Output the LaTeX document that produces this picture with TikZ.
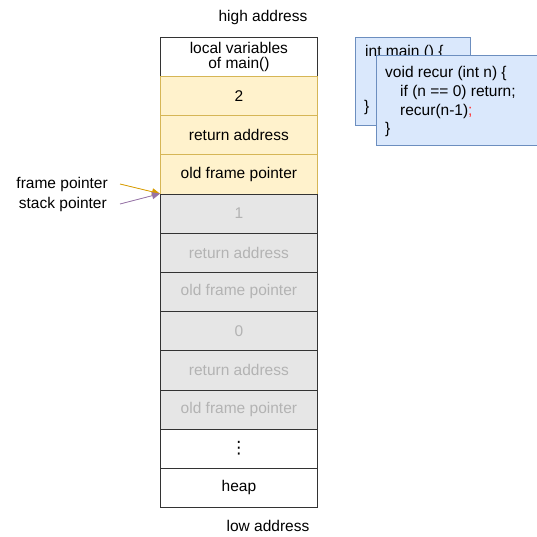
\documentclass[tikz,border=0pt]{standalone}
\usepackage{fontspec}
\setmainfont{Liberation Sans}
\newfontfamily\dotsfont{DejaVu Sans}
\usetikzlibrary{arrows.meta}
\definecolor{yfill}{HTML}{FFF2CC}
\definecolor{yline}{HTML}{D6B656}
\definecolor{gfill}{HTML}{E6E6E6}
\definecolor{gtext}{HTML}{B3B3B3}
\definecolor{cline}{HTML}{333333}
\definecolor{bfill}{HTML}{DAE8FC}
\definecolor{bline}{HTML}{6C8EBF}
\definecolor{fparrow}{HTML}{D79B00}
\definecolor{sparrow}{HTML}{9673A6}
\definecolor{semired}{HTML}{FF3333}
\begin{document}
\begin{tikzpicture}[x=1pt,y=-1pt,
  font=\fontsize{15.5}{17}\selectfont,
  cell/.style={draw=cline,line width=0.8pt,minimum width=157pt,minimum height=39.17pt,inner sep=0pt,anchor=north west,align=center},
  wcell/.style={cell,fill=white},
  ycell/.style={cell,fill=yfill,draw=yline},
  gcell/.style={cell,fill=gfill,text=gtext},
  codebox/.style={draw=bline,fill=bfill,line width=0.8pt,anchor=north west,inner sep=0pt},
  lbl/.style={inner sep=0pt},
  ptr/.style={line width=0.8pt,-{Triangle[length=8pt,width=7pt]}}
]
\useasboundingbox (0,0) rectangle (537,537);

% stack column, top to bottom
\node[wcell] (r0) at (160,37) {local variables\\[-2pt]of main()};
\node[ycell] (r1) at (160,76.17) {2};
\node[ycell] (r2) at (160,115.33) {return address};
\node[ycell] (r3) at (160,154.5) {old frame pointer};
\node[gcell] (r4) at (160,193.67) {1};
\node[gcell] (r5) at (160,232.83) {return address};
\node[gcell] (r6) at (160,272) {old frame pointer};
\node[gcell] (r7) at (160,311.17) {0};
\node[gcell] (r8) at (160,350.33) {return address};
\node[gcell] (r9) at (160,389.5) {old frame pointer};
\node[wcell] (r10) at (160,428.67) {\dotsfont\fontsize{17}{17}\selectfont ⋮};
\node[wcell] (r11) at (160,467.83) {heap};

\node[lbl] (hi) at (263,17) {high address};
\node[lbl] (lo) at (268,526) {low address};

% pointer labels and arrows
\node[lbl,anchor=east] (fp) at (108,184) {frame pointer};
\node[lbl,anchor=east] (sp) at (107,204) {stack pointer};
\coordinate (fpa) at (120,184);
\coordinate (spa) at (120,204);
\draw[ptr,draw=fparrow,fill=fparrow] (fpa) -- (r4.north west);
\draw[ptr,draw=sparrow,fill=sparrow] (spa) -- (r4.north west);

% source code of main() and recur()
\node[codebox,minimum width=115pt,minimum height=88pt] (mainbox) at (355,37) {};
\node[lbl,anchor=base west] (maintxt) at (365,57) {int main () \{};
\node[lbl,anchor=base west] (mainend) at (364,112) {\}};
\node[codebox,minimum width=161pt,minimum height=90pt] (recbox) at (375.5,55) {};
\node[lbl,anchor=base west] (l1) at (385,78) {void recur (int n) \{};
\node[lbl,anchor=base west] (l2) at (400,97) {if (n == 0) return;};
\node[lbl,anchor=base west] (l3) at (400,116) {recur(n-1)\textcolor{semired}{;}};
\node[lbl,anchor=base west] (l4) at (385,134) {\}};
\end{tikzpicture}
\end{document}
